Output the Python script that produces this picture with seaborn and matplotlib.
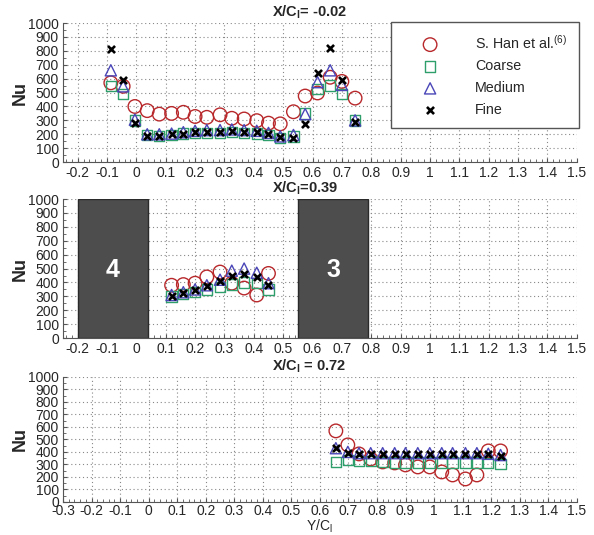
import numpy as np
import pandas as pd
import matplotlib
matplotlib.use("Agg")
import matplotlib.pyplot as plt
from matplotlib.ticker import MultipleLocator, FuncFormatter
import seaborn as sns

# ---- data ----
series_names = ["S. Han et al.$^{(6)}$", "Coarse", "Medium", "Fine"]

# X/Cl = -0.02
top_pos = [-0.087, -0.045, -0.005, 0.037, 0.078, 0.12, 0.16, 0.2, 0.24, 0.285, 0.325,
           0.367, 0.41, 0.45, 0.49, 0.535, 0.575, 0.617, 0.66, 0.70, 0.745]
top_han = [570, 545, 400, 370, 345, 350, 358, 328, 322, 340, 315, 310, 298, 280, 275, 362, 475, 497, 610, 580, 460]
top_coarse = [545, 490, 300, 195, 190, 195, 205, 210, 210, 210, 215, 210, 205, 195, 175, 185, 350, 525, 550, 490, 300]
top_medium = [660, 545, 305, 200, 200, 205, 215, 225, 230, 230, 235, 230, 225, 210, 185, 195, 345, 575, 660, 555, 300]
top_fine = [815, 590, 280, 190, 190, 200, 205, 215, 220, 220, 225, 220, 215, 200, 180, 175, 275, 640, 820, 590, 290]

# X/Cl = 0.39
mid_pos = [0.12, 0.16, 0.2, 0.24, 0.285, 0.325, 0.367, 0.41, 0.45]
mid_han = [380, 385, 395, 440, 475, 395, 360, 310, 465]
mid_coarse = [300, 315, 330, 350, 365, 385, 400, 395, 350]
mid_medium = [310, 330, 350, 380, 420, 485, 500, 470, 395]
mid_fine = [300, 325, 345, 375, 410, 445, 460, 440, 380]

# X/Cl = 0.72
bot_pos = [0.656, 0.698, 0.737, 0.778, 0.82, 0.862, 0.90, 0.943, 0.985, 1.027,
           1.065, 1.11, 1.15, 1.19, 1.233]
bot_han = [568, 456, 384, 344, 320, 312, 296, 280, 280, 240, 216, 184, 216, 408, 408]
bot_coarse = [320, 335, 330, 325, 320, 315, 315, 315, 315, 315, 315, 315, 315, 310, 305]
bot_medium = [430, 400, 390, 390, 390, 390, 390, 390, 390, 390, 390, 390, 390, 385, 375]
bot_fine = [430, 390, 385, 385, 385, 385, 385, 385, 385, 385, 385, 385, 385, 380, 370]

# grey blocks in the middle panel
block_labels = ["4", "3"]
block_left = [-0.2, 0.55]
block_right = [0.04, 0.79]

panel_titles = [r"X/C$_{\mathbf{l}}$= -0.02", r"X/C$_{\mathbf{l}}$=0.39", r"X/C$_{\mathbf{l}}$ = 0.72"]

# ---- style ----
sns.set_style("ticks")
plt.rcParams["font.family"] = ["Liberation Sans", "DejaVu Sans"]
plt.rcParams["mathtext.fontset"] = "custom"
plt.rcParams["mathtext.rm"] = "Liberation Sans"
plt.rcParams["mathtext.it"] = "Liberation Sans:italic"
plt.rcParams["mathtext.bf"] = "Liberation Sans:bold"

marker_styles = {
    "S. Han et al.$^{(6)}$": dict(marker="o", s=95, color="#b8282b", facecolor="none", edgecolor="#b8282b", linewidth=1.0),
    "Coarse": dict(marker="s", s=55, color="#2e9e6b", facecolor="none", edgecolor="#2e9e6b", linewidth=1.0),
    "Medium": dict(marker="^", s=65, color="#4a46b8", facecolor="none", edgecolor="#4a46b8", linewidth=1.0),
    "Fine": dict(marker="x", s=26, color="black", linewidth=1.9),
}


def fmt(v, pos):
    return "%g" % round(v, 2)


def draw_panel(ax, pos, values, xlim, title):
    for name, vals in zip(series_names, values):
        df = pd.DataFrame({"pos": pos, "Nu": vals})
        sns.scatterplot(data=df, x="pos", y="Nu", ax=ax, label=name, zorder=3,
                        **marker_styles[name])
    ax.set_xlim(*xlim)
    ax.set_ylim(0, 1000)
    ax.xaxis.set_major_locator(MultipleLocator(0.1))
    ax.xaxis.set_minor_locator(MultipleLocator(0.02))
    ax.yaxis.set_major_locator(MultipleLocator(100))
    ax.yaxis.set_minor_locator(MultipleLocator(50))
    ax.xaxis.set_major_formatter(FuncFormatter(fmt))
    ax.tick_params(which="major", direction="in", length=3, labelsize=10, pad=3, color="#555555")
    ax.tick_params(which="minor", direction="in", length=2, color="#555555")
    ax.grid(True, which="major", linestyle=(0, (1, 2.5)), color="#888888", linewidth=0.8)
    for side in ["top", "right"]:
        ax.spines[side].set_visible(False)
    for side in ["left", "bottom"]:
        ax.spines[side].set_color("#555555")
        ax.spines[side].set_linewidth(0.8)
    ax.set_xlabel("")
    ax.set_ylabel("Nu", fontsize=13, fontweight="bold")
    ax.yaxis.set_label_coords(-0.066, 0.5)
    ax.text(0.407, 1.015, title, transform=ax.transAxes, ha="left", va="bottom",
            fontsize=10.5, fontweight="bold")


fig = plt.figure(figsize=(5.94, 5.35), dpi=100)
ax1 = fig.add_axes([0.106, 0.697, 0.865, 0.260])
ax2 = fig.add_axes([0.106, 0.368, 0.865, 0.260])
ax3 = fig.add_axes([0.106, 0.0617, 0.865, 0.234])

draw_panel(ax1, top_pos, [top_han, top_coarse, top_medium, top_fine], (-0.25, 1.5), panel_titles[0])
draw_panel(ax2, mid_pos, [mid_han, mid_coarse, mid_medium, mid_fine], (-0.25, 1.5), panel_titles[1])
draw_panel(ax3, bot_pos, [bot_han, bot_coarse, bot_medium, bot_fine], (-0.3, 1.5), panel_titles[2])
ax3.tick_params(axis="x", which="major", pad=1.5)

# grey blocks
for lab, x0, x1 in zip(block_labels, block_left, block_right):
    ax2.axvspan(x0, x1, facecolor="#4d4d4d", edgecolor="#2a2a2a", linewidth=1.0, zorder=2)
    ax2.text((x0 + x1) / 2, 490, lab, ha="center", va="center", color="white",
             fontsize=18, fontweight="bold", zorder=4)

# legend only on top panel
leg = ax1.legend(loc="upper right", bbox_to_anchor=(1.004, 1.007), borderaxespad=0,
                 fontsize=10.3, fancybox=False, framealpha=1, edgecolor="#555555",
                 borderpad=0.8, handlelength=3.9, handletextpad=1.2, labelspacing=0.55)
leg.get_frame().set_linewidth(1.0)
leg.set_zorder(10)
ax2.get_legend().remove()
ax3.get_legend().remove()

ax3.set_xlabel(r"Y/C$_\mathregular{l}$", fontsize=10)
ax3.xaxis.set_label_coords(0.5, -0.125)

fig.savefig("out.png", dpi=100)
